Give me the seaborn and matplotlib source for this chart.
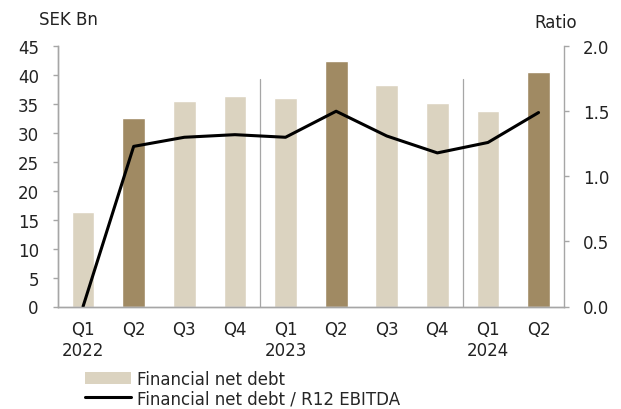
import pandas as pd
import matplotlib
matplotlib.use('Agg')
import matplotlib.pyplot as plt
import seaborn as sns
from matplotlib.patches import Patch
from matplotlib.lines import Line2D

quarters = ['Q1', 'Q2', 'Q3', 'Q4', 'Q1', 'Q2', 'Q3', 'Q4', 'Q1', 'Q2']
years = ['2022', '', '', '', '2023', '', '', '', '2024', '']
net_debt = [16.4, 32.6, 35.5, 36.4, 36.1, 42.4, 38.3, 35.1, 33.8, 40.5]
ratio = [0.0, 1.23, 1.30, 1.32, 1.30, 1.50, 1.31, 1.18, 1.26, 1.49]
highlight = [False, True, False, False, False, True, False, False, False, True]

light = '#DBD3C0'
dark = '#A08A63'
grey = '#A6A6A6'

sns.set_style('white')
plt.rcParams['font.family'] = ['DejaVu Sans']

df = pd.DataFrame({'period': [f'{q} {y}_{i}' for i, (q, y) in enumerate(zip(quarters, years))],
                   'debt': net_debt, 'ratio': ratio})
colors = [dark if h else light for h in highlight]

fig, ax = plt.subplots(figsize=(6.21, 4.10), dpi=100)
fig.subplots_adjust(left=0.093, right=0.908, top=0.885, bottom=0.25)

sns.barplot(data=df, x='period', y='debt', hue='period', palette=colors,
            legend=False, width=0.45, saturation=1, ax=ax)
ax.set_xlim(-0.5, 9.5)
ax.set_ylim(0, 45)
ax.set_yticks(range(0, 50, 5))
ax.set_xticks(range(10))
ax.set_xticklabels([f'{q}\n{y}' for q, y in zip(quarters, years)], linespacing=1.2)
ax.set_xlabel('')
ax.set_ylabel('')

# year separators
for xs in [3.5, 7.5]:
    ax.plot([xs, xs], [0, 39.3], color=grey, lw=0.9)

ax2 = ax.twinx()
sns.lineplot(x=list(range(10)), y=ratio, color='black', linewidth=2.2, ax=ax2)
ax2.set_ylim(0, 2.0)
ax2.set_yticks([0, 0.5, 1.0, 1.5, 2.0])
ax2.set_yticklabels(['0.0', '0.5', '1.0', '1.5', '2.0'])

for a in (ax, ax2):
    for s in a.spines.values():
        s.set_color(grey)
        s.set_linewidth(1.0)
    a.spines['top'].set_visible(False)
    a.tick_params(colors='#222222', labelsize=12, length=3.6, color=grey, width=1, pad=10)
ax.spines['right'].set_visible(False)
ax.tick_params(axis='x', length=0, pad=10)

fig.text(0.063, 0.952, 'SEK Bn', fontsize=12, color='#222222', va='center')
fig.text(0.86, 0.945, 'Ratio', fontsize=12, color='#222222', va='center')

handles = [Patch(facecolor=light, edgecolor='none'),
           Line2D([0], [0], color='black', lw=2.2)]
fig.legend(handles, ['Financial net debt', 'Financial net debt / R12 EBITDA'],
           loc='lower left', bbox_to_anchor=(0.126, -0.012), frameon=False,
           fontsize=12, handlelength=2.75, handletextpad=0.35, labelspacing=0.1,
           borderaxespad=0)

plt.savefig('out.png', dpi=100)
